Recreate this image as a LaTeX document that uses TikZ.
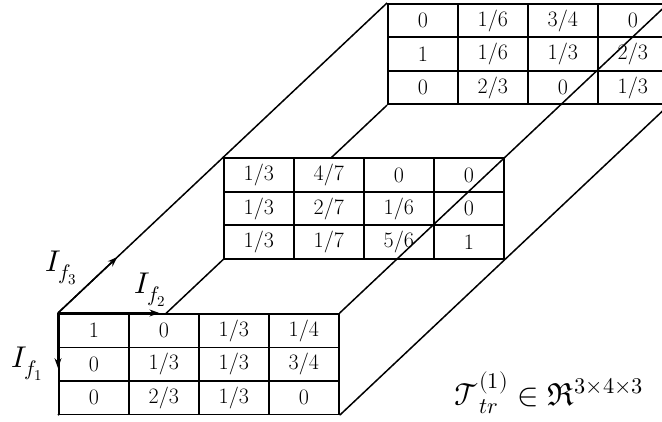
\documentclass[tikz,border=0pt]{standalone}
\usepackage{fontspec}
\usepackage{unicode-math}
\setmathfont{Latin Modern Math}
\usetikzlibrary{calc,arrows.meta,matrix}
\pgfdeclarelayer{layA}
\pgfdeclarelayer{layB}
\pgfdeclarelayer{layC}
\pgfdeclarelayer{layD}
\pgfdeclarelayer{laytop}
\pgfsetlayers{layA,layB,layC,layD,main,laytop}
\newcommand{\cellfont}{\fontsize{22}{22}\selectfont}
\newcommand{\labfont}{\fontsize{30}{30}\selectfont}
\newcommand{\tensfont}{\fontsize{32}{32}\selectfont}
\tikzset{
  tabcell/.style={draw, fill=white, line width=1.7pt, minimum width=70pt,
    minimum height=33.5pt, inner sep=0pt, outer sep=0pt, anchor=center, font=\cellfont},
  tensortab/.style={matrix of nodes, inner sep=0pt, outer sep=0pt,
    column sep=-1.7pt, row sep=-1.7pt, anchor=north west, nodes={tabcell}},
  edgeline/.style={line width=1.5pt},
  axisarrow/.style={line width=1.5pt, -{Stealth[length=10pt,width=7pt]}},
  axislabel/.style={font=\labfont, inner sep=0pt}
}
\begin{document}
\begin{tikzpicture}[x=1pt,y=-1pt]
\useasboundingbox (0,0) rectangle (662,422);
\begin{pgfonlayer}{layA}
\matrix[tensortab] (back) at (387,3) {
  0 & 1/6 & 3/4 & 0 \\
  1 & 1/6 & 1/3 & 2/3 \\
  0 & 2/3 & 0 & 1/3 \\
};
\end{pgfonlayer}
\begin{pgfonlayer}{layC}
\matrix[tensortab] (mid) at (223,157.5) {
  1/3 & 4/7 & 0 & 0 \\
  1/3 & 2/7 & 1/6 & 0 \\
  1/3 & 1/7 & 5/6 & 1 \\
};
\end{pgfonlayer}
\matrix[tensortab] (front) at (58,313) {
  1 & 0 & 1/3 & 1/4 \\
  0 & 1/3 & 1/3 & 3/4 \\
  0 & 2/3 & 1/3 & 0 \\
};
\begin{pgfonlayer}{layB}
\draw[edgeline] (back.north west) -- (mid.north west);
\draw[edgeline] (back.south west) -- (mid.south west);
\draw[edgeline] (back.south east) -- (mid.south east);
\end{pgfonlayer}
\begin{pgfonlayer}{layD}
\draw[edgeline] (mid.north west) -- (front.north west);
\draw[edgeline] (mid.south west) -- (front.south west);
\draw[edgeline] (mid.south east) -- (front.south east);
\end{pgfonlayer}
\begin{pgfonlayer}{laytop}
\draw[edgeline] (front.north east) -- (back.north east);
\draw[axisarrow] (front.north west) -- ($(front.north west)!0.36!(mid.north west)$);
\draw[axisarrow] (front.north west) -- ($(front.north west)!0.36!(front.north east)$);
\draw[axisarrow] (front.north west) -- ($(front.north west)!0.54!(front.south west)$);
\end{pgfonlayer}
\node[axislabel] (lf3) at (61,268) {$I_{f_3}$};
\node[axislabel] (lf2) at (150,290) {$I_{f_2}$};
\node[axislabel] (lf1) at (27,364) {$I_{f_1}$};
\node[inner sep=0pt, font=\tensfont] (tens) at (549,393) {$\mathcal{T}_{tr}^{(1)}\in\Re^{3\times4\times3}$};
\end{tikzpicture}
\end{document}
